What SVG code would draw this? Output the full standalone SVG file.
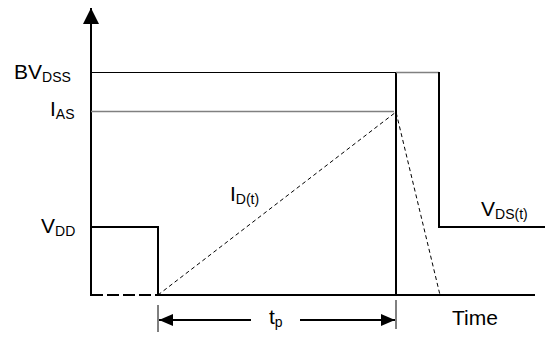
<svg xmlns="http://www.w3.org/2000/svg" width="545" height="338" viewBox="0 0 545 338">
<style>
  text { font-family: "Liberation Sans", Arial, sans-serif; fill: #000; }
  .lbl { font-size: 21px; }
  .sub { font-size: 14px; }
  .thick { stroke: #000; stroke-width: 2; fill: none; }
  .thin { stroke: #000; stroke-width: 1; fill: none; }
  .gray { stroke: #808080; stroke-width: 1.5; fill: none; }
  .dash { stroke: #000; stroke-width: 1; stroke-dasharray: 4 3; fill: none; }
</style>
<defs>
  <marker id="ah" viewBox="0 0 14 12" refX="14" refY="6" markerWidth="14" markerHeight="12" markerUnits="userSpaceOnUse" orient="auto">
    <path d="M0,0 L14,6 L0,12 Z" fill="#000"/>
  </marker>
  <marker id="axh" viewBox="0 0 16 16" refX="16" refY="8" markerWidth="16" markerHeight="16" markerUnits="userSpaceOnUse" orient="auto">
    <path d="M0,0 L16,8 L0,16 Z" fill="#000"/>
  </marker>
</defs>

<g id="axes">
  <line class="thick" x1="91" y1="296" x2="91" y2="8" marker-end="url(#axh)"/>
  <line class="thick" x1="158" y1="295" x2="535" y2="295"/>
</g>

<g id="levels">
  <line class="thin" x1="91" y1="72.5" x2="396" y2="72.5"/>
  <line class="gray" x1="91" y1="111.5" x2="394" y2="111.5"/>
</g>

<g id="vdd-pulse">
  <polyline class="thick" points="91,227 158,227 158,295"/>
  <line class="thick" x1="91" y1="295" x2="158" y2="295" stroke-dasharray="12 4"/>
</g>

<g id="vds-waveform">
  <line class="thick" x1="396" y1="296" x2="396" y2="72"/>
  <line class="gray" x1="396" y1="72.5" x2="439" y2="72.5"/>
  <polyline class="thick" points="439,72 439,227 545,227"/>
</g>

<g id="id-waveform">
  <polyline class="dash" points="158,295 396,112 440,295"/>
</g>

<g id="connectors">
  <line class="thin" x1="158" y1="305" x2="158" y2="332" stroke-width="1.5"/>
  <line class="thin" x1="396" y1="300" x2="396" y2="329" stroke-width="1.5"/>
  <line class="thick" x1="251" y1="320" x2="159" y2="320" marker-end="url(#ah)"/>
  <line class="thick" x1="300" y1="320" x2="395" y2="320" marker-end="url(#ah)"/>
</g>

<g id="labels">
  <text class="lbl" x="14" y="79">BV<tspan class="sub" dy="3">DSS</tspan></text>
  <text class="lbl" x="50" y="116">I<tspan class="sub" dy="3">AS</tspan></text>
  <text class="lbl" x="41" y="233">V<tspan class="sub" dy="3">DD</tspan></text>
  <text class="lbl" x="230" y="201">I<tspan class="sub" dy="3">D(t)</tspan></text>
  <text class="lbl" x="481" y="216">V<tspan class="sub" dy="3">DS(t)</tspan></text>
  <text class="lbl" x="269" y="324">t<tspan class="sub" dy="3">p</tspan></text>
  <text class="lbl" x="452" y="325">Time</text>
</g>
</svg>
